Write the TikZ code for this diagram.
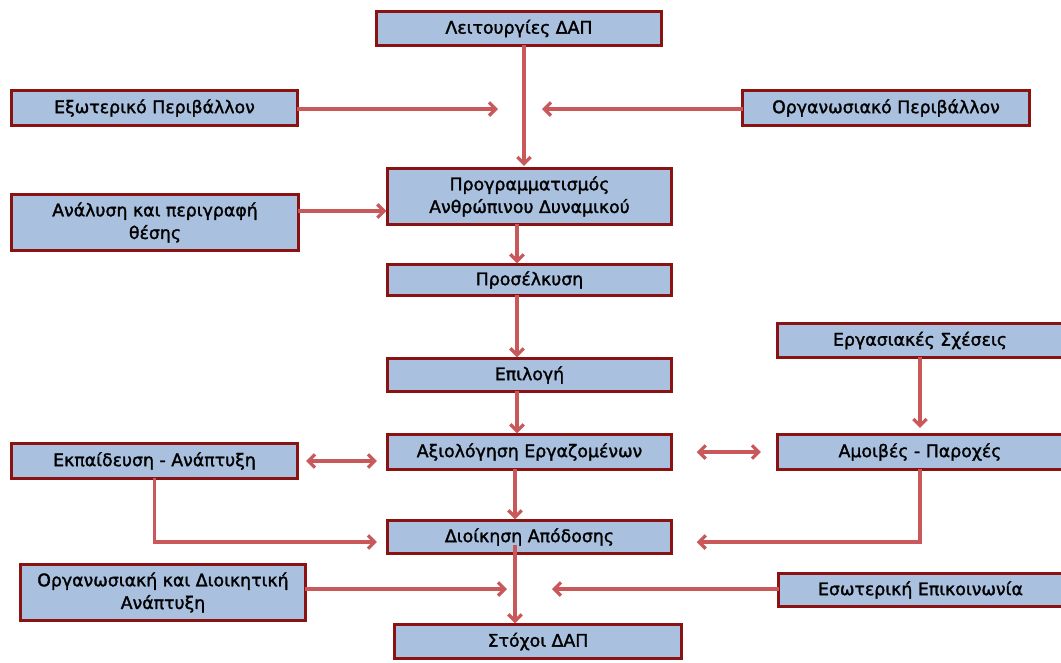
\documentclass[tikz,border=0pt]{standalone}
\usepackage{fontspec}
\setmainfont{DejaVu Sans}[FakeBold=1.6]
\usetikzlibrary{arrows.meta,shadows,calc}
\definecolor{boxfill}{HTML}{A9C1DF}
\definecolor{boxline}{HTML}{8B1212}
\definecolor{arrred}{HTML}{C9585A}
\newcommand\mybox[6]{\node[bx, minimum width={(#4-#2)*0.75pt-2.4pt}, minimum height={(#5-#3)*0.75pt-2.4pt}] (#1) at ({(#2+#4)/2},{(#3+#5)/2}) {#6};}
\begin{document}
\begin{tikzpicture}[x=0.75pt,y=-0.75pt,
  bx/.style={draw=boxline, line width=2.4pt, fill=boxfill, inner sep=0pt, outer sep=0pt, align=center,
    font=\fontsize{13}{17}\selectfont,
    drop shadow={shadow xshift=1.3pt, shadow yshift=-1.3pt, fill=black, opacity=0.3}},
  arr/.style={draw=arrred, line width=2.4pt, -{Straight Barb[length=5pt,width=10pt]}},
  darr/.style={draw=arrred, line width=2.4pt, {Straight Barb[length=5pt,width=10pt]}-{Straight Barb[length=5pt,width=10pt]}}]
\useasboundingbox (0,0) rectangle (1061,662);
\clip (0,0) rectangle (1061,662);
\fill[white] (0,0) rectangle (1061,662);

\mybox{L}{375}{10}{663}{47}{Λειτουργίες ΔΑΠ}
\mybox{E}{10}{89}{299}{127}{Εξωτερικό Περιβάλλον}
\mybox{O}{741}{89}{1031}{127}{Οργανωσιακό Περιβάλλον}
\mybox{P}{386}{167}{673}{226}{Προγραμματισμός\\Ανθρώπινου Δυναμικού}
\mybox{A}{10}{193}{300}{252}{Ανάλυση και περιγραφή\\θέσης}
\mybox{Pr}{386}{263}{673}{297}{Προσέλκυση}
\mybox{ES}{776}{322}{1064}{359}{Εργασιακές Σχέσεις}
\mybox{Ep}{386}{357}{673}{393}{Επιλογή}
\mybox{Ek}{10}{442}{299}{480}{Εκπαίδευση - Ανάπτυξη}
\mybox{Ax}{386}{433}{673}{471}{Αξιολόγηση Εργαζομένων}
\mybox{Am}{776}{433}{1064}{471}{Αμοιβές - Παροχές}
\mybox{D}{386}{519}{673}{555}{Διοίκηση Απόδοσης}
\mybox{OD}{19}{563}{307}{622}{Οργανωσιακή και Διοικητική\\Ανάπτυξη}
\mybox{Es}{777}{572}{1064}{608}{Εσωτερική Επικοινωνία}
\mybox{S}{393}{623}{683}{660}{Στόχοι ΔΑΠ}

\coordinate (s1) at (524,0);
\coordinate (s2) at (517,0);
\coordinate (s3) at (515,0);
\coordinate (hl) at (498,109);
\coordinate (hr) at (542,109);
\coordinate (ap) at (0,211);
\coordinate (y542) at (0,542);
\coordinate (ds) at (515,545);
\coordinate (bl) at (507,589);
\coordinate (br) at (552,589);

\draw[arr, shorten >=2pt] (s1 |- L.south) -- (s1 |- P.north);
\draw[arr] (E.east |- hl) -- (hl);
\draw[arr] (O.west |- hr) -- (hr);
\draw[arr, shorten >=1pt] (A.east |- ap) -- (P.west |- ap);
\draw[arr, shorten >=1pt] (s2 |- P.south) -- (s2 |- Pr.north);
\draw[arr, shorten >=1pt] (s2 |- Pr.south) -- (s2 |- Ep.north);
\draw[arr, shorten >=1pt] (s2 |- Ep.south) -- (s2 |- Ax.north);
\draw[arr, shorten >=1pt] (s3 |- Ax.south) -- (s3 |- D.north);
\draw[arr, shorten >=1pt] (ds) -- (ds |- S.north);
\draw[darr, shorten <=6.5pt, shorten >=8pt] (Ek.east) -- (Ek.east -| Ax.west);
\draw[darr, shorten <=19pt, shorten >=12.5pt] (Ax.east) -- (Ax.east -| Am.west);
\draw[arr, shorten >=5pt] (ES.south) -- (Am.north);
\draw[arr, shorten >=8pt] (Ek.south) |- (D.west |- y542);
\draw[arr, shorten >=19pt] (Am.south) |- (D.east |- y542);
\draw[arr] (OD.east |- bl) -- (bl);
\draw[arr] (Es.west |- br) -- (br);
\end{tikzpicture}
\end{document}
